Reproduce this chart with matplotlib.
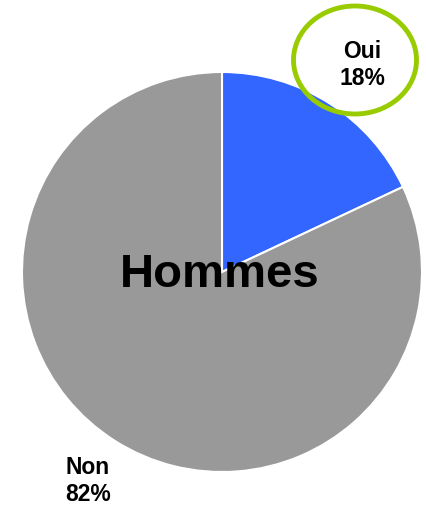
import matplotlib
matplotlib.use("Agg")
import matplotlib.pyplot as plt
from matplotlib.patches import Ellipse

plt.rcParams['font.family'] = ['Liberation Sans', 'DejaVu Sans']

categories = ["Oui", "Non"]
values = [18, 82]
colors = ["#3366FF", "#999999"]
title = "Hommes"

W, H = 427, 505
fig = plt.figure(figsize=(W/100, H/100), dpi=100)
ax = fig.add_axes([0, 0, 1, 1])
ax.set_xlim(0, W)
ax.set_ylim(0, H)
ax.set_aspect('equal')
ax.axis('off')

ax.pie(values, colors=colors, startangle=90, counterclock=False,
       center=(222, H - 272), radius=200,
       wedgeprops=dict(edgecolor='white', linewidth=1.5))
ax.set_xlim(0, W)
ax.set_ylim(0, H)

ax.text(220, H - 275, title, ha='center', va='center', fontsize=34,
        fontweight='bold', color='black')

ax.text(362, H - 65, f"{categories[0]}\n{values[0]}%", ha='center', va='center',
        fontsize=16.5, fontweight='bold', linespacing=1.2)
ax.text(88, H - 481, f"{categories[1]}\n{values[1]}%", ha='center', va='center',
        fontsize=16.5, fontweight='bold', linespacing=1.2)

ax.add_patch(Ellipse((355, H - 60), 123, 108, fill=False, edgecolor='#99CC00', linewidth=3.5))

fig.savefig("out.png", dpi=100)
